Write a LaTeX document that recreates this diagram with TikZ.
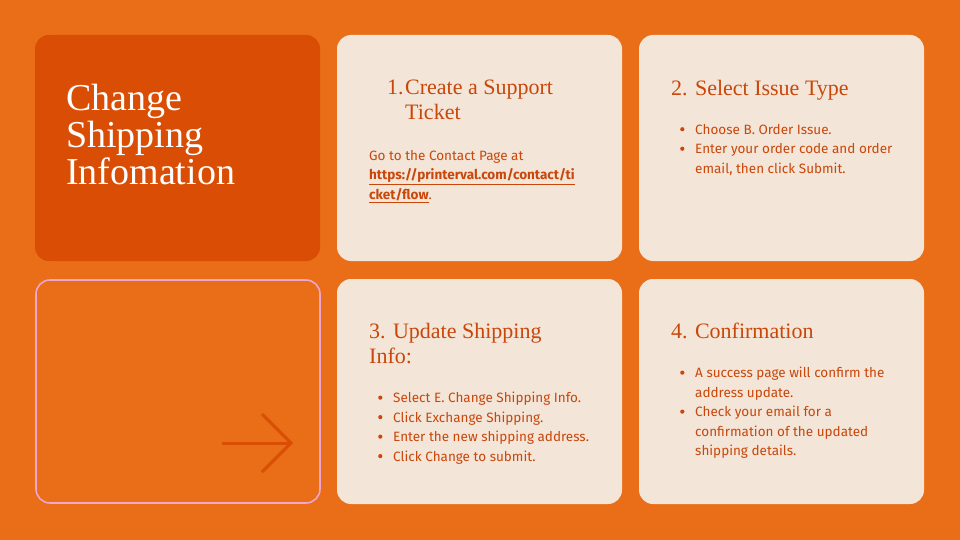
\documentclass[tikz,border=0pt]{standalone}
\usepackage{fontspec}
\setmainfont{Liberation Serif}
\newfontfamily\bodyf{Fira Sans}
\definecolor{bg}{HTML}{E96E17}
\definecolor{dark}{HTML}{D94E04}
\definecolor{cream}{HTML}{F3E5D8}
\definecolor{txt}{HTML}{C9470A}
\definecolor{pinkb}{HTML}{F2A5CF}
\tikzset{head/.style={anchor=north west,text=txt,font=\fontsize{22}{25}\selectfont,inner sep=0pt,align=left},
 body/.style={anchor=north west,text=txt,font=\bodyf\fontsize{13.5}{19.5}\selectfont,inner sep=0pt,align=left}}
\newcommand{\bl}{\makebox[15pt][l]{\raisebox{3pt}{\tikz\fill[txt] (0,0) circle (2.1pt);}}}
\begin{document}
\begin{tikzpicture}[x=1pt,y=-1pt]
\fill[bg] (0,0) rectangle (960,540);
\useasboundingbox (0,0) rectangle (960,540);
\fill[dark,rounded corners=14pt] (35,35) rectangle (320,261);
\node[anchor=north west,inner sep=0pt,text=white,align=left,font=\fontsize{38}{37}\selectfont] (title) at (66,84) {Change\\Shipping\\Infomation};
\fill[cream,rounded corners=14pt] (337,35) rectangle (622,261);
\fill[cream,rounded corners=14pt] (639,35) rectangle (924,261);
\fill[cream,rounded corners=14pt] (337,279) rectangle (622,504);
\fill[cream,rounded corners=14pt] (639,279) rectangle (924,504);
\draw[pinkb,line width=1.6pt,rounded corners=14pt] (36,280) rectangle (320,503);
\coordinate (a1) at (222,443); \coordinate (a2) at (291,443);
\draw[dark,line width=3pt] (a1) -- (a2);
\draw[dark,line width=3pt,line join=miter] (262,414) -- (a2) -- (262,472);
\node[head] (h1n) at (387,80) {1.};
\node[head] (h1) at (405,80) {Create a Support\\Ticket};
\node[body] (b1) at (369,150) {Go to the Contact Page at\\\textbf{\underline{https://printerval.com/contact/ti}}\\\textbf{\underline{cket/flow}}.};
\node[head] (h2) at (671,80) {2. Select Issue Type};
\node[body] (b2) at (680,124) {\bl Choose B. Order Issue.\\\bl Enter your order code and order\\\hspace*{15pt}email, then click Submit.};
\node[head] (h3) at (369,323) {3. Update Shipping\\Info:};
\node[body] (b3) at (378,392) {\bl Select E. Change Shipping Info.\\\bl Click Exchange Shipping.\\\bl Enter the new shipping address.\\\bl Click Change to submit.};
\node[head] (h4) at (671,323) {4. Confirmation};
\node[body] (b4) at (680,367) {\bl A success page will confirm the\\\hspace*{15pt}address update.\\\bl Check your email for a\\\hspace*{15pt}confirmation of the updated\\\hspace*{15pt}shipping details.};
\end{tikzpicture}
\end{document}
